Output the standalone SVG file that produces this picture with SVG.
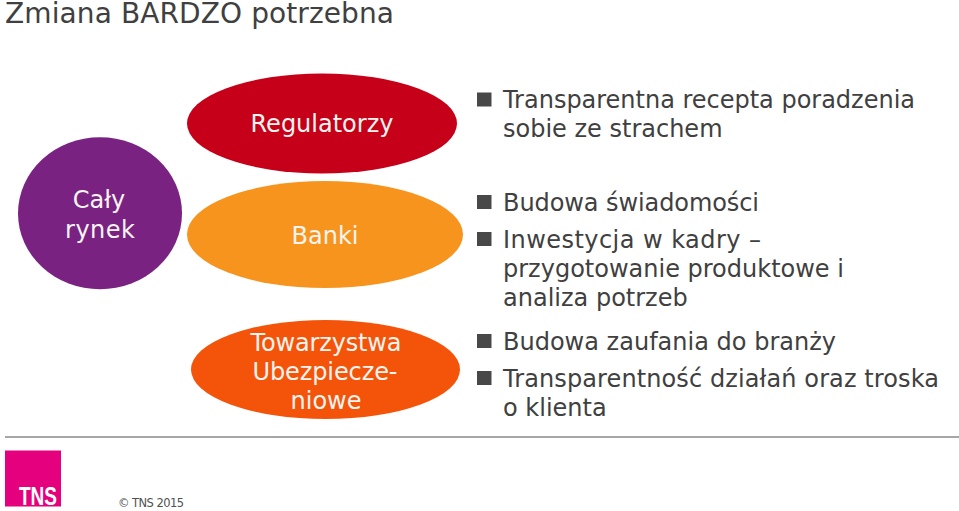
<svg xmlns="http://www.w3.org/2000/svg" width="959" height="511" viewBox="0 0 959 511">
<style>
text{font-family:"DejaVu Sans",Verdana,sans-serif}
.w{fill:#f8f4f0;font-size:24px;text-anchor:middle}
.b{fill:#404040;font-size:24px}
.s{fill:#484848}
</style>
<rect width="959" height="511" fill="#fff"/>
<text id="title" x="5" y="23" font-size="28" fill="#404040" textLength="389" lengthAdjust="spacing">Zmiana BARDZO potrzebna</text>
<g id="caly"><ellipse cx="100" cy="213.300" rx="82" ry="76" fill="#7a2282"/><text class="w" x="99" y="208">Cały</text><text class="w" x="100" y="238" textLength="70">rynek</text></g>
<g id="regulatorzy"><ellipse cx="322" cy="123.500" rx="135" ry="50" fill="#c60018"/><text class="w" x="322" y="132">Regulatorzy</text></g>
<g id="banki"><ellipse cx="325" cy="234.500" rx="138" ry="53.500" fill="#f7941e"/><text class="w" x="325" y="244">Banki</text></g>
<g id="towarzystwa"><ellipse cx="325.500" cy="369.500" rx="134.500" ry="49.500" fill="#f4540a"/><text class="w" x="326" y="351" textLength="151">Towarzystwa</text><text class="w" x="325" y="380" textLength="145">Ubezpiecze-</text><text class="w" x="326" y="409">niowe</text></g>
<g id="bullets">
<rect class="s" x="477" y="92.500" width="14.500" height="14"/><text class="b" x="503" y="108" textLength="412">Transparentna recepta poradzenia</text><text class="b" x="503" y="137">sobie ze strachem</text>
<rect class="s" x="477" y="195" width="14.500" height="14"/><text class="b" x="503" y="211" textLength="256">Budowa świadomości</text>
<rect class="s" x="477" y="232" width="14.500" height="14"/><text class="b" x="503" y="248" textLength="258">Inwestycja w kadry –</text><text class="b" x="503" y="277">przygotowanie produktowe i</text><text class="b" x="503" y="306">analiza potrzeb</text>
<rect class="s" x="477" y="334" width="14.500" height="14"/><text class="b" x="503" y="350" textLength="333">Budowa zaufania do branży</text>
<rect class="s" x="477" y="371" width="14.500" height="14"/><text class="b" x="503" y="387" textLength="436">Transparentność działań oraz troska</text><text class="b" x="503" y="416">o klienta</text>
</g>
<rect x="5" y="436" width="954" height="2" fill="#a6a6a6"/>
<g id="logo"><rect x="5" y="450.500" width="56" height="56" fill="#e5007e"/><text x="19" y="505" font-size="25" font-weight="bold" fill="#fff" textLength="38" lengthAdjust="spacingAndGlyphs" style="font-family:'Liberation Sans',sans-serif">TNS</text></g>
<text x="118" y="507" font-size="11.500" fill="#505050" textLength="66">© TNS 2015</text>
</svg>
